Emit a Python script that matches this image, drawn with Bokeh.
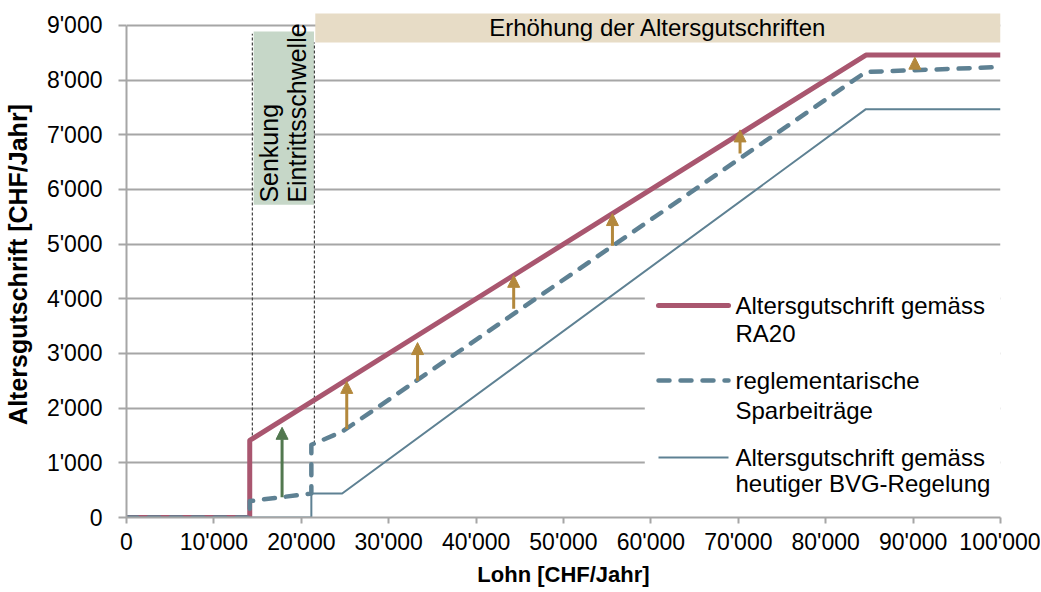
import numpy as np
from bokeh.plotting import figure
from bokeh.models import FixedTicker, Range1d, ColumnDataSource, Arrow, NormalHead
from bokeh.core.properties import value
from bokeh.embed import file_html
from bokeh.resources import INLINE

# ---------------- data ----------------
x_ticks = [0, 10000, 20000, 30000, 40000, 50000, 60000, 70000, 80000, 90000, 100000]
x_tick_labels = ["0", "10'000", "20'000", "30'000", "40'000", "50'000", "60'000",
                 "70'000", "80'000", "90'000", "100'000"]
y_ticks = [0, 1000, 2000, 3000, 4000, 5000, 6000, 7000, 8000, 9000]
y_tick_labels = ["0", "1'000", "2'000", "3'000", "4'000", "5'000", "6'000",
                 "7'000", "8'000", "9'000"]

# Altersgutschrift gemäss RA20
ra20_x = [0, 14100, 14100, 84600, 100000]
ra20_y = [0, 0, 1410, 8460, 8460]
# reglementarische Sparbeiträge
regl_x = [0, 14100, 14100, 21150, 21150, 24675, 84600, 100000]
regl_y = [0, 0, 300, 440, 1330, 1570, 8150, 8240]
# Altersgutschrift gemäss heutiger BVG-Regelung
bvg_x = [0, 21150, 21150, 24675, 84600, 100000]
bvg_y = [0, 0, 440, 440, 7470, 7470]

# arrows
green_arrow_x = [17800]
green_arrow_from = [370]
green_arrow_to = [1650]
up_arrow_x = [25200, 33300, 44300, 55600, 70200, 90200]
up_arrow_from = [1620, 2500, 3820, 4970, 6660, 8230]
up_arrow_to = [2490, 3200, 4430, 5560, 7090, 8420]

legend_line1 = ["Altersgutschrift gemäss", "reglementarische", "Altersgutschrift gemäss"]
legend_line2 = ["RA20", "Sparbeiträge", "heutiger BVG-Regelung"]

title_box = "Erhöhung der Altersgutschriften"
threshold_text = ["Senkung", "Eintrittsschwelle"]

# ---------------- styles ----------------
RED = "#A9566F"
BLUE = "#5E8193"
ORANGE = "#B3883C"
GREEN = "#52784F"
TAN = "#E7DCC6"
SAGE = "#C6D7C8"
GRID = "#A6A6A6"
FONT = value("Liberation Sans")
FS = "24px"

p = figure(frame_width=874, frame_height=506,
           x_range=Range1d(0, 100000), y_range=Range1d(0, 9256),
           min_border_left=126, min_border_right=40, min_border_top=11,
           min_border_bottom=67,
           output_backend="svg", toolbar_location=None)
p.outline_line_color = None
p.background_fill_color = "white"
p.border_fill_color = "white"

# axes
for ax, ticks, labels, tout in ((p.xaxis, x_ticks, x_tick_labels, 6),
                                (p.yaxis, y_ticks, y_tick_labels, 8)):
    ax.ticker = FixedTicker(ticks=ticks)
    ax.major_label_overrides = dict(zip(ticks, labels))
    ax.axis_line_color = GRID
    ax.axis_line_width = 2
    ax.major_tick_line_color = GRID
    ax.major_tick_line_width = 2
    ax.major_tick_in = 0
    ax.major_tick_out = tout
    ax.minor_tick_line_color = None
    ax.major_label_text_font = "Liberation Sans"
    ax.major_label_text_font_size = "23px"
    ax.major_label_text_color = "black"
    ax.axis_label_text_font = "Liberation Sans"
    ax.axis_label_text_font_style = "bold"
    ax.axis_label_text_color = "black"

p.xaxis.axis_label_text_font_size = "22px"
p.yaxis.axis_label_text_font_size = "25px"
p.yaxis.bounds = (0, 9000)
p.xaxis.bounds = (0, 100000)
p.xaxis.axis_label = "Lohn [CHF/Jahr]"
p.yaxis.axis_label = "Altersgutschrift [CHF/Jahr]"
p.yaxis.major_label_standoff = 16
p.xaxis.major_label_standoff = 5
p.yaxis.axis_label_standoff = 12
p.xaxis.axis_label_standoff = 4

p.xgrid.grid_line_color = None
p.ygrid.ticker = FixedTicker(ticks=y_ticks)
p.ygrid.grid_line_color = GRID
p.ygrid.grid_line_width = 2

# boxes (layout annotations)
p.quad(left=[21600], right=[100000], bottom=[8690], top=[9220],
       fill_color=TAN, line_color=None)
p.quad(left=[14550], right=[21450], bottom=[5720], top=[8890],
       fill_color=SAGE, line_color=None)
p.quad(left=[59300], right=[100000], bottom=[350], top=[4350],
       fill_color="white", line_color=None)

# dashed threshold markers
p.segment(x0=[14400, 21500], y0=[1410, 1354], x1=[14400, 21500], y1=[8850, 8690],
          line_color="#404040", line_width=1.2, line_dash="3 2")

# series
p.line(ra20_x, ra20_y, line_color=RED, line_width=5, line_join="round")
p.line(regl_x, regl_y, line_color=BLUE, line_width=4.5, line_dash="11 11",
       line_cap="round", line_join="round")
p.line(bvg_x, bvg_y, line_color=BLUE, line_width=2)

# arrows
src_g = ColumnDataSource(dict(x=green_arrow_x, y0=green_arrow_from, y1=green_arrow_to))
p.add_layout(Arrow(source=src_g, x_start="x", y_start="y0", x_end="x", y_end="y1",
                   line_color=GREEN, line_width=3,
                   end=NormalHead(size=12, fill_color=GREEN, line_color=GREEN)))
src_o = ColumnDataSource(dict(x=up_arrow_x, y0=up_arrow_from, y1=up_arrow_to))
p.add_layout(Arrow(source=src_o, x_start="x", y_start="y0", x_end="x", y_end="y1",
                   line_color=ORANGE, line_width=3,
                   end=NormalHead(size=12, fill_color=ORANGE, line_color=ORANGE)))

# texts
p.text(x=[60800], y=[8955], text=[title_box], text_align="center",
       text_baseline="middle", text_font=FONT, text_font_size=FS, text_color="black")
p.text(x=[16250, 19500], y=[5760, 5760], text=threshold_text, angle=np.pi / 2,
       text_align="left", text_baseline="middle", text_font=FONT,
       text_font_size="25px", text_color="black")

# legend (manual)
leg_y1 = [3878, 2506, 1097]
leg_y2 = [3366, 1957, 622]
p.line([60870, 68880], [leg_y1[0]] * 2, line_color=RED, line_width=5, line_cap="round")
p.line([60870, 68880], [leg_y1[1]] * 2, line_color=BLUE, line_width=4.5,
       line_dash="11 11", line_cap="round")
p.line([60870, 68880], [leg_y1[2]] * 2, line_color=BLUE, line_width=2)
p.text(x=[69680] * 3, y=leg_y1, text=legend_line1, text_align="left",
       text_baseline="middle", text_font=FONT, text_font_size=FS, text_color="black")
p.text(x=[69680] * 3, y=leg_y2, text=legend_line2, text_align="left",
       text_baseline="middle", text_font=FONT, text_font_size=FS, text_color="black")

open("out.html", "w").write(file_html(p, INLINE))
